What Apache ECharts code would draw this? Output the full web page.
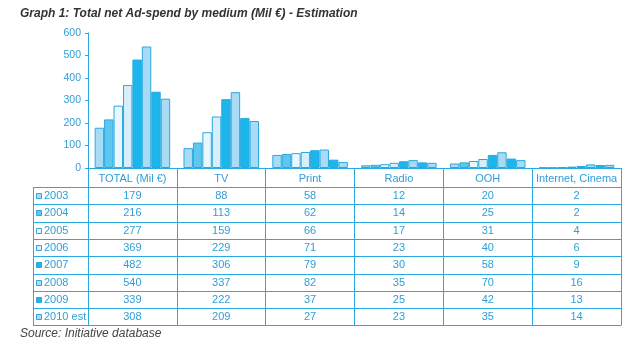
<!DOCTYPE html>
<html>
<head>
<meta charset="utf-8">
<script src="https://cdn.jsdelivr.net/npm/echarts@6/dist/echarts.min.js"></script>
<style>
html,body{margin:0;padding:0;background:#fff;}
#c{width:640px;height:364px;}
</style>
</head>
<body>
<div id="c"></div>
<script>
var categories = ['TOTAL (Mil €)', 'TV', 'Print', 'Radio', 'OOH', 'Internet, Cinema'];
var years = ['2003', '2004', '2005', '2006', '2007', '2008', '2009', '2010 est'];
var y2003 = [179, 88, 58, 12, 20, 2];
var y2004 = [216, 113, 62, 14, 25, 2];
var y2005 = [277, 159, 66, 17, 31, 4];
var y2006 = [369, 229, 71, 23, 40, 6];
var y2007 = [482, 306, 79, 30, 58, 9];
var y2008 = [540, 337, 82, 35, 70, 16];
var y2009 = [339, 222, 37, 25, 42, 13];
var y2010 = [308, 209, 27, 23, 35, 14];
var yTicks = [0, 100, 200, 300, 400, 500, 600];

var seriesValues = [y2003, y2004, y2005, y2006, y2007, y2008, y2009, y2010];
var fills = ['#a8dcf6', '#5ec7f0', '#eaf7fd', '#d6effb', '#1db6ec', '#a8dcf6', '#1db6ec', '#a8dcf6'];
var lineColor = '#2aa9e0';
var textColor = '#2f9fd6';
var font = '"Liberation Sans", Arial, sans-serif';

var chart = echarts.init(document.getElementById('c'), null, {renderer: 'canvas'});

var gridTop = 33, gridBottomY = 168, gridLeft = 88, gridRight = 19;
var headerH = 19, rowH = 17.3;

var series = years.map(function (y, i) {
  return {
    name: y,
    type: 'bar',
    data: seriesValues[i],
    barGap: '0%',
    barCategoryGap: '15%',
    itemStyle: {color: fills[i], borderColor: lineColor, borderWidth: 1},
    animation: false
  };
});

chart.setOption({
  animation: false,
  grid: {left: gridLeft, right: gridRight, top: gridTop, bottom: 364 - gridBottomY, containLabel: false},
  title: {
    text: 'Graph 1: Total net Ad-spend by medium (Mil €) - Estimation',
    left: 20, top: 8, padding: 0,
    textStyle: {fontFamily: font, fontSize: 12, fontWeight: 'bold', fontStyle: 'italic', color: '#333'}
  },
  xAxis: {
    type: 'category',
    data: categories,
    axisLine: {lineStyle: {color: lineColor, width: 1}},
    axisTick: {show: true, alignWithLabel: false, length: headerH + rowH * 8, lineStyle: {color: lineColor}},
    axisLabel: {color: textColor, fontFamily: font, fontSize: 11, margin: 5, interval: 0}
  },
  yAxis: {
    type: 'value',
    min: yTicks[0], max: yTicks[yTicks.length - 1], interval: 100,
    axisLine: {show: true, lineStyle: {color: lineColor}},
    axisTick: {show: true, length: 3, lineStyle: {color: lineColor}},
    splitLine: {show: false},
    axisLabel: {color: textColor, fontFamily: font, fontSize: 10.5, margin: 7}
  },
  series: series
});

function drawTable() {
  var x0 = chart.convertToPixel({xAxisIndex: 0}, categories[0]);
  var x1 = chart.convertToPixel({xAxisIndex: 0}, categories[1]);
  var band = x1 - x0;
  var tableLeft = x0 - band / 2;
  var tableRight = tableLeft + band * categories.length;
  var axisY = chart.convertToPixel({yAxisIndex: 0}, 0);
  var labelLeft = 33;
  var els = [];
  var rowTop0 = axisY + headerH;
  for (var r = 0; r <= years.length; r++) {
    var yy = Math.round(rowTop0 + r * rowH) + 0.5;
    els.push({type: 'line', shape: {x1: labelLeft, y1: yy, x2: tableRight, y2: yy}, style: {stroke: lineColor, lineWidth: 1}, silent: true});
  }
  els.push({type: 'line', shape: {x1: labelLeft + 0.5, y1: Math.round(rowTop0) + 0.5, x2: labelLeft + 0.5, y2: Math.round(rowTop0 + years.length * rowH) + 0.5}, style: {stroke: lineColor, lineWidth: 1}, silent: true});
  for (var i = 0; i < years.length; i++) {
    var cy = rowTop0 + i * rowH + rowH / 2 + 0.5;
    els.push({type: 'rect', shape: {x: labelLeft + 3.5, y: Math.round(cy - 3) + 0.5, width: 5, height: 5}, style: {fill: fills[i], stroke: lineColor, lineWidth: 1}, silent: true});
    els.push({type: 'text', x: labelLeft + 11, y: cy, style: {text: years[i], fill: textColor, font: '11px ' + font, verticalAlign: 'middle', textVerticalAlign: 'middle'}, silent: true});
    for (var j = 0; j < categories.length; j++) {
      var cx = chart.convertToPixel({xAxisIndex: 0}, categories[j]);
      els.push({type: 'text', x: cx, y: cy, style: {text: String(seriesValues[i][j]), fill: textColor, font: '11px ' + font, align: 'center', textAlign: 'center', verticalAlign: 'middle', textVerticalAlign: 'middle'}, silent: true});
    }
  }
  els.push({type: 'text', x: 20, y: rowTop0 + years.length * rowH + 8, style: {text: 'Source: Initiative database', fill: '#444', font: 'italic 12px ' + font, verticalAlign: 'middle', textVerticalAlign: 'middle'}, silent: true});
  chart.setOption({graphic: {elements: els}});
}
drawTable();
</script>
</body>
</html>
